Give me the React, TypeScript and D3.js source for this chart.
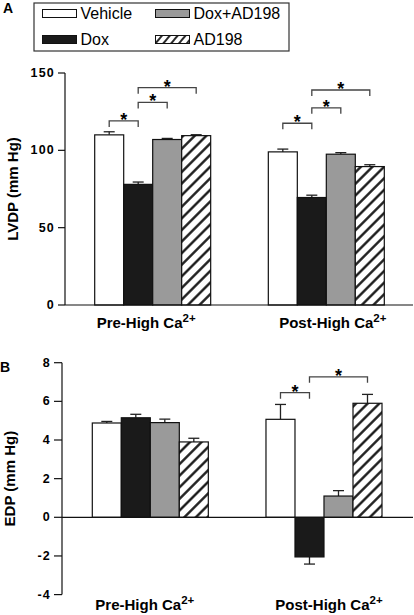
import React from "react";
import * as d3 from "d3";

const categories = ["Pre-High Ca", "Post-High Ca"];
const categorySup = "2+";
const series = ["Vehicle", "Dox", "Dox+AD198", "AD198"];

const lvdpPre = [110, 78, 107, 109.5];
const lvdpPreErr = [2, 1.5, 0.7, 0.6];
const lvdpPost = [99, 69.5, 97.5, 89.5];
const lvdpPostErr = [1.8, 1.5, 1, 1.2];

const edpPre = [4.88, 5.15, 4.9, 3.9];
const edpPreErr = [0.08, 0.18, 0.18, 0.19];
const edpPost = [5.07, -2.05, 1.1, 5.9];
const edpPostErr = [0.77, 0.37, 0.28, 0.46];

const lvdpTicks = [0, 50, 100, 150];
const edpTicks = [-4, -2, 0, 2, 4, 6, 8];

// significance brackets: [category index, from series, to series, bracket level value]
const lvdpSig = [
  [0, 0, 1, 119],
  [0, 1, 2, 131],
  [0, 1, 3, 140.5],
  [1, 0, 1, 117.5],
  [1, 1, 2, 127.5],
  [1, 1, 3, 139],
];
const edpSig = [
  [1, 0, 1, 6.45],
  [1, 1, 3, 7.27],
];

const fills = ["#ffffff", "#1a1a1a", "#9a9a9a", "url(#hatch)"];
const FONT = "'Liberation Sans', Arial, Helvetica, sans-serif";

type PanelProps = {
  letter: string;
  letterY: number;
  title: string;
  titleX: number;
  axisX: number;
  yDomain: [number, number];
  yRange: [number, number];
  ticks: number[];
  tickLen: number;
  bandRange: [number, number];
  values: number[][];
  errs: number[][];
  sig: number[][];
  labelY: number;
  labelOffsets: number[];
};

function Panel(p: PanelProps) {
  const y = d3.scaleLinear().domain(p.yDomain).range(p.yRange);
  const x0 = d3.scaleBand().domain(categories).range(p.bandRange).paddingInner(0.332).paddingOuter(0);
  const x1 = d3.scaleBand().domain(series).range([0, x0.bandwidth()]).padding(0);
  const y0 = y(0);
  const titleY = (p.yRange[0] + p.yRange[1]) / 2;
  const bx = (ci: number, si: number) => (x0(categories[ci]) as number) + (x1(series[si]) as number) + x1.bandwidth() / 2;
  return (
    <g>
      <text x={p.letter === "A" ? 3 : 0} y={p.letterY} fontFamily={FONT} fontWeight="bold" fontSize={14}>{p.letter}</text>
      <text transform={`translate(${p.titleX},${titleY}) rotate(-90)`} textAnchor="middle" dominantBaseline="central" fontFamily={FONT} fontWeight="bold" fontSize={15}>{p.title}</text>
      {/* bars */}
      {categories.map((c, ci) =>
        series.map((s, si) => {
          const v = p.values[ci][si];
          const e = p.errs[ci][si];
          const x = (x0(c) as number) + (x1(s) as number);
          const w = x1.bandwidth();
          const top = Math.min(y(v), y0);
          const h = Math.abs(y(v) - y0);
          const cx = x + w / 2;
          const ey = y(v + (v >= 0 ? e : -e));
          return (
            <g key={c + s}>
              <line x1={cx} x2={cx} y1={y(v)} y2={ey} stroke="#222" strokeWidth={1.3} />
              <line x1={cx - 5.5} x2={cx + 5.5} y1={ey} y2={ey} stroke="#222" strokeWidth={1.3} />
              <rect x={x} y={top} width={w} height={h} fill={fills[si]} stroke="#111" strokeWidth={1.2} />
            </g>
          );
        })
      )}
      {/* axes */}
      <line x1={p.axisX} x2={p.axisX} y1={p.yRange[0]} y2={p.yRange[1]} stroke="#111" strokeWidth={1.2} />
      <line x1={p.axisX} x2={413} y1={y0} y2={y0} stroke="#111" strokeWidth={1.2} />
      {p.ticks.map((t) => (
        <g key={t}>
          <line x1={p.axisX - p.tickLen} x2={p.axisX} y1={y(t)} y2={y(t)} stroke="#111" strokeWidth={1.2} />
          <text x={p.axisX - p.tickLen - 3} y={y(t)} textAnchor="end" dominantBaseline="central" fontFamily={FONT} fontWeight="bold" fontSize={12.5} letterSpacing={1.2}>{t}</text>
        </g>
      ))}
      {/* category labels */}
      {categories.map((c, ci) => (
        <text key={c} x={(x0(c) as number) + x0.bandwidth() / 2 + p.labelOffsets[ci]} y={p.labelY} textAnchor="middle" fontFamily={FONT} fontWeight="bold" fontSize={15}>
          {c}
          <tspan dy={-6} fontSize={11.5}>{categorySup}</tspan>
        </text>
      ))}
      {/* significance */}
      {p.sig.map((s, i) => {
        const xa = bx(s[0], s[1]);
        const xb = bx(s[0], s[2]);
        const yy = y(s[3]);
        return (
          <g key={i}>
            <path d={`M${xa},${yy + 6}V${yy}H${xb}V${yy + 6}`} fill="none" stroke="#444" strokeWidth={1.3} />
            <text x={(xa + xb) / 2} y={yy + 5} textAnchor="middle" fontFamily={FONT} fontWeight="bold" fontSize={18}>*</text>
          </g>
        );
      })}
    </g>
  );
}

export default function App() {
  const legendItems = series.map((s, i) => ({ s, i, col: i === 0 || i === 1 ? 0 : 1, row: i === 0 || i === 2 ? 0 : 1 }));
  return (
    <svg width={414} height={615} style={{ position: "absolute", left: 0, top: 0, background: "#fff" }}>
      <defs>
        <pattern id="hatch" patternUnits="userSpaceOnUse" width={10} height={8.2} patternTransform="rotate(-45)">
          <rect width={10} height={8.2} fill="#fff" />
          <line x1={-1} x2={11} y1={4.1} y2={4.1} stroke="#111" strokeWidth={2.3} />
        </pattern>
        <pattern id="hatchSmall" patternUnits="userSpaceOnUse" width={8} height={6} patternTransform="rotate(-50)">
          <rect width={8} height={6} fill="#fff" />
          <line x1={-1} x2={9} y1={3} y2={3} stroke="#111" strokeWidth={1.8} />
        </pattern>
      </defs>
      <rect width={414} height={615} fill="#fff" />
      {/* legend */}
      <rect x={34} y={3} width={255} height={48} fill="#fff" stroke="#333" strokeWidth={1.2} />
      {legendItems.map(({ s, i, col, row }) => {
        const sx = col === 0 ? 42.5 : 155.5;
        const sy = row === 0 ? 9.5 : 35.5;
        return (
          <g key={s}>
            <rect x={sx} y={sy} width={34} height={8} fill={i === 3 ? "url(#hatchSmall)" : fills[i]} stroke="#111" strokeWidth={1} />
            <text x={sx + 38} y={row === 0 ? 18.5 : 45} fontFamily={FONT} fontSize={16}>{s}</text>
          </g>
        );
      })}
      <Panel
        letter="A"
        letterY={13}
        title="LVDP (mm Hg)"
        titleX={12.5}
        axisX={65}
        yDomain={[0, 150]}
        yRange={[305, 73]}
        ticks={lvdpTicks}
        tickLen={7}
        bandRange={[94.7, 384.3]}
        values={[lvdpPre, lvdpPost]}
        errs={[lvdpPreErr, lvdpPostErr]}
        sig={lvdpSig}
        labelY={328}
        labelOffsets={[-6.5, 6.5]}
      />
      <Panel
        letter="B"
        letterY={372}
        title="EDP (mm Hg)"
        titleX={9.5}
        axisX={62}
        yDomain={[-4, 8]}
        yRange={[594.6, 362.7]}
        ticks={edpTicks}
        tickLen={8}
        bandRange={[92.3, 382]}
        values={[edpPre, edpPost]}
        errs={[edpPreErr, edpPostErr]}
        sig={edpSig}
        labelY={610}
        labelOffsets={[-5.5, 5]}
      />
    </svg>
  );
}
